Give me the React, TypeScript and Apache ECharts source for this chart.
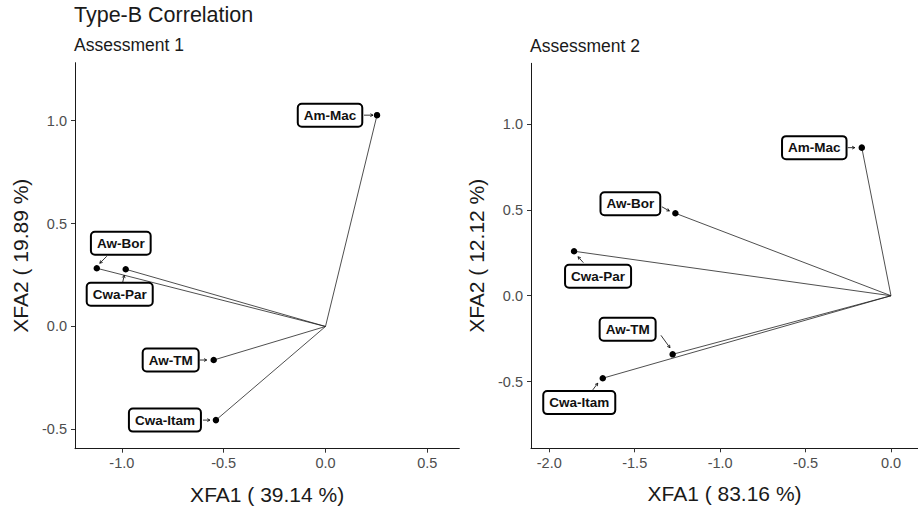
import React, { useEffect, useRef } from "react";
import * as echarts from "echarts";

// ---- data ----
const siteNames = ["Am-Mac", "Aw-Bor", "Cwa-Par", "Aw-TM", "Cwa-Itam"];
const a1XFA1 = [0.253, -1.123, -0.981, -0.549, -0.538];
const a1XFA2 = [1.027, 0.283, 0.278, -0.163, -0.455];
const a2XFA1 = [-0.171, -1.262, -1.855, -1.278, -1.687];
const a2XFA2 = [0.862, 0.48, 0.259, -0.341, -0.48];

const a1XTicks = [-1, -0.5, 0, 0.5];
const a1YTicks = [-0.5, 0, 0.5, 1];
const a2XTicks = [-2, -1.5, -1, -0.5, 0];
const a2YTicks = [-0.5, 0, 0.5, 1];

const a1XName = "XFA1 ( 39.14 %)";
const a1YName = "XFA2 ( 19.89 %)";
const a2XName = "XFA1 ( 83.16 %)";
const a2YName = "XFA2 ( 12.12 %)";

// ---- layout (pixels, relative to each point): box centre, arrow start, arrow end ----
const a1LabelLayout = [
  { dx: -47, dy: 0, sx: -13, sy: 0, ex: -4, ey: 0 },
  { dx: 24, dy: -25, sx: 10, sy: -12, ex: 3, ey: -5 },
  { dx: -6, dy: 25, sx: -3, sy: 13, ex: -1.5, ey: 6 },
  { dx: -43, dy: 0, sx: -14, sy: 0, ex: -7, ey: 0 },
  { dx: -51, dy: 0, sx: -13, sy: 0, ex: -6, ey: 0 },
];
const a2LabelLayout = [
  { dx: -47.5, dy: 0, sx: -14, sy: 0, ex: -7, ey: 0 },
  { dx: -45, dy: -9.5, sx: -13.5, sy: -6.5, ex: -6, ey: -2.3 },
  { dx: 24, dy: 25, sx: 9.3, sy: 11.4, ex: 4, ey: 5.5 },
  { dx: -45, dy: -25, sx: -11.7, sy: -19, ex: -2.7, ey: -6.6 },
  { dx: -23.5, dy: 24.4, sx: -10, sy: 11.7, ex: -5, ey: 5 },
];

const FONT = "Liberation Sans, Arial, sans-serif";

function buildPanel(
  idx: number,
  xs: number[],
  ys: number[],
  layout: typeof a1LabelLayout
) {
  const series: any[] = [];
  xs.forEach((x, i) => {
    series.push({
      type: "line",
      xAxisIndex: idx,
      yAxisIndex: idx,
      data: [
        [0, 0],
        [x, ys[i]],
      ],
      showSymbol: false,
      symbol: "none",
      lineStyle: { color: "#222", width: 0.8 },
      silent: true,
      z: 2,
    });
  });
  series.push({
    type: "scatter",
    xAxisIndex: idx,
    yAxisIndex: idx,
    data: xs.map((x, i) => [x, ys[i]]),
    symbolSize: 6.5,
    itemStyle: { color: "#000", opacity: 1 },
    z: 3,
  });
  series.push({
    type: "custom",
    xAxisIndex: idx,
    yAxisIndex: idx,
    clip: false,
    z: 4,
    data: xs.map((x, i) => [x, ys[i], i]),
    encode: { x: 0, y: 1 },
    renderItem: (params: any, api: any) => {
      const i = api.value(2);
      const p = api.coord([api.value(0), api.value(1)]);
      const L = layout[i];
      const sx = p[0] + L.sx;
      const sy = p[1] + L.sy;
      const ex = p[0] + L.ex;
      const ey = p[1] + L.ey;
      const ang = Math.atan2(ey - sy, ex - sx);
      const ah = 3;
      const a1 = ang + Math.PI - 0.5;
      const a2 = ang + Math.PI + 0.5;
      return {
        type: "group",
        children: [
          {
            type: "line",
            shape: { x1: sx, y1: sy, x2: ex, y2: ey },
            style: { stroke: "#000", lineWidth: 0.8 },
          },
          {
            type: "polyline",
            shape: {
              points: [
                [ex + ah * Math.cos(a1), ey + ah * Math.sin(a1)],
                [ex, ey],
                [ex + ah * Math.cos(a2), ey + ah * Math.sin(a2)],
              ],
            },
            style: { stroke: "#000", lineWidth: 0.8, fill: null },
          },
          {
            type: "text",
            x: p[0] + L.dx,
            y: p[1] + L.dy,
            style: {
              text: siteNames[i],
              fontSize: 13.5,
              fontWeight: "bold",
              fontFamily: FONT,
              fill: "#111",
              align: "center",
              verticalAlign: "middle",
              backgroundColor: "#fff",
              borderColor: "#000",
              borderWidth: 2,
              borderRadius: 3,
              padding: [3, 5, 3, 5],
              lineHeight: 15,
            },
          },
        ],
      };
    },
  });
  return series;
}

function axisCommon(ticks: number[], min: number, max: number, name: string, isY: boolean, gridIndex: number) {
  return {
    type: "value",
    gridIndex,
    min,
    max,
    name,
    nameLocation: "middle",
    nameGap: isY ? 44 : 35,
    nameTextStyle: { fontSize: 21, color: "#1a1a1a", fontFamily: FONT },
    axisLine: { show: true, onZero: false, lineStyle: { color: "#1a1a1a", width: 1 } },
    axisTick: {
      show: true,
      length: 4,
      customValues: ticks,
      lineStyle: { color: "#333", width: 1 },
    },
    axisLabel: {
      customValues: ticks,
      formatter: (v: number) => v.toFixed(1),
      color: "#4d4d4d",
      fontSize: 14.5,
      fontFamily: FONT,
      margin: isY ? 8 : 7,
    },
    splitLine: { show: false },
  };
}

export default function App() {
  const ref = useRef<HTMLDivElement>(null);
  useEffect(() => {
    if (!ref.current) return;
    const chart = echarts.init(ref.current, null, { renderer: "svg" });
    const option: any = {
      animation: false,
      backgroundColor: "#fff",
      title: [
        {
          text: "Type-B Correlation",
          left: 74,
          top: 4,
          padding: 0,
          textStyle: { fontSize: 21.5, fontWeight: "normal", color: "#1a1a1a", fontFamily: FONT },
        },
        {
          text: "Assessment 1",
          left: 74,
          top: 36,
          padding: 0,
          textStyle: { fontSize: 17.5, fontWeight: "normal", color: "#1a1a1a", fontFamily: FONT },
        },
        {
          text: "Assessment 2",
          left: 530,
          top: 37,
          padding: 0,
          textStyle: { fontSize: 17.5, fontWeight: "normal", color: "#1a1a1a", fontFamily: FONT },
        },
      ],
      grid: [
        { left: 75, top: 62.7, width: 384.3, height: 386 },
        { left: 531, top: 63.3, width: 387, height: 385 },
      ],
      xAxis: [
        axisCommon(a1XTicks, -1.23, 0.657, a1XName, false, 0),
        axisCommon(a2XTicks, -2.107, 0.158, a2XName, false, 1),
      ],
      yAxis: [
        axisCommon(a1YTicks, -0.594, 1.282, a1YName, true, 0),
        axisCommon(a2YTicks, -0.888, 1.353, a2YName, true, 1),
      ],
      series: [
        ...buildPanel(0, a1XFA1, a1XFA2, a1LabelLayout),
        ...buildPanel(1, a2XFA1, a2XFA2, a2LabelLayout),
      ],
    };
    chart.setOption(option);
    return () => chart.dispose();
  }, []);
  return (
    <div
      ref={ref}
      style={{ position: "fixed", left: 0, top: 0, width: 918, height: 510, background: "#fff" }}
    />
  );
}
